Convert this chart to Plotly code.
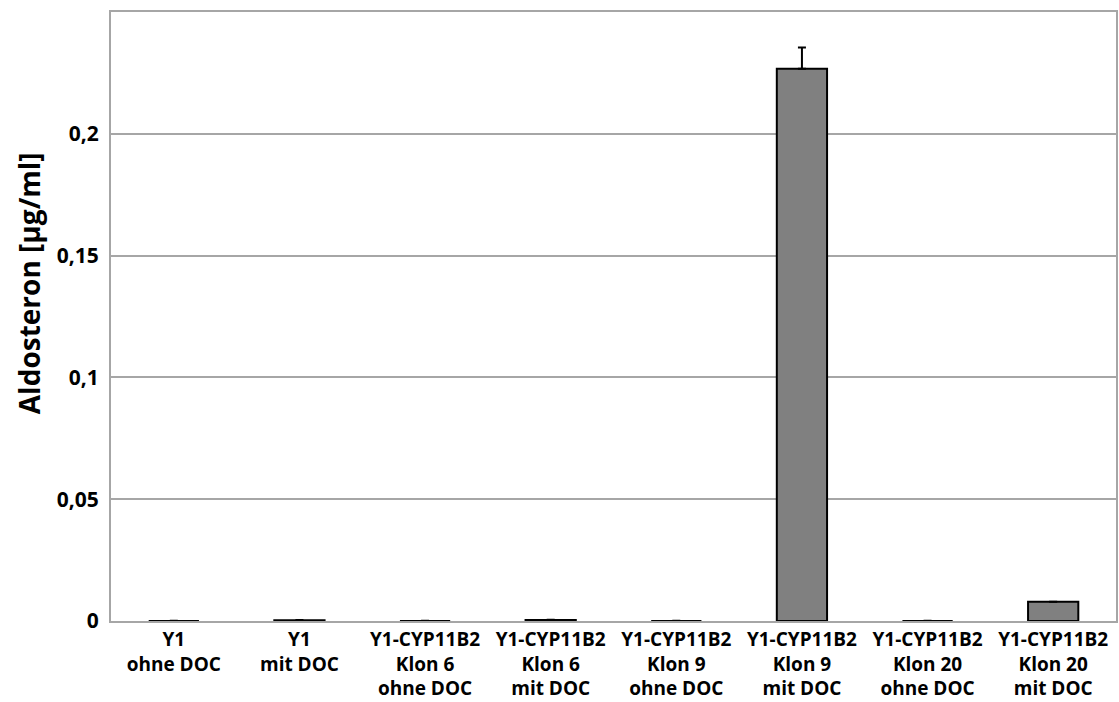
import plotly.graph_objects as go

categories = [
    "Y1<br>ohne DOC",
    "Y1<br>mit DOC",
    "Y1-CYP11B2<br>Klon 6<br>ohne DOC",
    "Y1-CYP11B2<br>Klon 6<br>mit DOC",
    "Y1-CYP11B2<br>Klon 9<br>ohne DOC",
    "Y1-CYP11B2<br>Klon 9<br>mit DOC",
    "Y1-CYP11B2<br>Klon 20<br>ohne DOC",
    "Y1-CYP11B2<br>Klon 20<br>mit DOC",
]
aldosteron = [0.0, 0.0003, 0.0, 0.0004, 0.0, 0.2267, 0.0, 0.0079]
fehler = [0.0001, 0.0001, 0.0001, 0.0001, 0.0001, 0.0087, 0.0001, 0.0]

y_ticks = [0, 0.05, 0.1, 0.15, 0.2]
y_ticktext = ["0", "0,05", "0,1", "0,15", "0,2"]
y_title = "Aldosteron [µg/ml]"

font_family = "Open Sans, Liberation Sans, sans-serif"

fig = go.Figure(
    go.Bar(
        x=categories,
        y=aldosteron,
        width=0.4,
        marker=dict(color="#808080", line=dict(color="#000000", width=2)),
        error_y=dict(type="data", array=fehler,
                     arrayminus=[0] * len(fehler), symmetric=False,
                     visible=True, color="#000000", thickness=2, width=4),
    )
)

fig.update_layout(
    width=1119,
    height=702,
    margin=dict(l=111, r=3, t=12, b=81),
    paper_bgcolor="white",
    plot_bgcolor="white",
    showlegend=False,
    bargap=0.6,
    font=dict(family=font_family, color="#000000"),
)

# Vertical axis title, placed slightly above the axis centre
fig.add_annotation(
    text=y_title,
    xref="paper", yref="paper",
    x=-0.082, y=0.554,
    xanchor="center", yanchor="middle",
    textangle=-90,
    showarrow=False,
    font=dict(size=28, family=font_family, weight="bold", color="#000000"),
)

fig.update_yaxes(
    range=[0, 0.25],
    tickvals=y_ticks,
    ticktext=y_ticktext,
    tickfont=dict(size=21, family=font_family, weight="bold"),
    showgrid=True,
    gridcolor="#a6a6a6",
    gridwidth=1.5,
    zeroline=False,
    showline=True,
    linecolor="#a6a6a6",
    linewidth=2,
    mirror=True,
    ticks="outside",
    ticklen=6,
    tickcolor="rgba(0,0,0,0)",
    automargin=False,
)

fig.update_xaxes(
    tickfont=dict(size=19, family=font_family, weight="bold"),
    showline=True,
    linecolor="#a6a6a6",
    linewidth=2,
    mirror=True,
    ticks="",
    showgrid=False,
    tickangle=0,
    automargin=False,
)

fig.write_html("out.html")
